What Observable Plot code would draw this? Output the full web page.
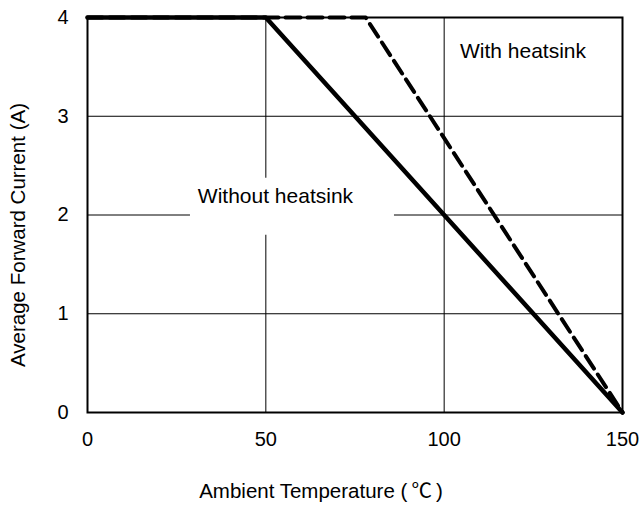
<!DOCTYPE html>
<html>
<head>
<meta charset="utf-8">
<script src="https://cdn.jsdelivr.net/npm/d3@7"></script>
<script src="https://cdn.jsdelivr.net/npm/@observablehq/plot@0.6"></script>
<style>
  html, body { margin: 0; padding: 0; background: #fff; }
</style>
</head>
<body>
<div id="chart"></div>
<script>
// Data
const withoutTemp = [0, 50, 150];
const withoutCurrent = [4, 4, 0];
const withTemp = [0, 78, 150];
const withCurrent = [4, 4, 0];

const xTicks = [0, 50, 100, 150];
const yTicks = [0, 1, 2, 3, 4];

const labelNames = ["Without heatsink", "With heatsink"];
const labelX = [52.7, 122.1];
const labelY = [2.19, 3.66];

const xTitle = "Ambient Temperature (\u2009\u2103\u2009)";
const yTitle = "Average Forward Current (A)";

const withoutData = withoutTemp.map((t, i) => ({t, a: withoutCurrent[i]}));
const withData = withTemp.map((t, i) => ({t, a: withCurrent[i]}));
const labels = labelNames.map((name, i) => ({name, x: labelX[i], y: labelY[i]}));

const font = "'Liberation Sans', Arial, 'Noto Sans CJK JP', sans-serif";

const chart = Plot.plot({
  width: 642,
  height: 506,
  marginLeft: 87,
  marginRight: 20,
  marginTop: 17,
  marginBottom: 94,
  x: {domain: [0, 150]},
  y: {domain: [0, 4]},
  style: {fontFamily: font, background: "white", color: "black"},
  marks: [
    Plot.gridX(xTicks, {stroke: "black", strokeOpacity: 1, strokeWidth: 1}),
    Plot.gridY(yTicks, {stroke: "black", strokeOpacity: 1, strokeWidth: 1}),
    Plot.frame({stroke: "black", strokeWidth: 2}),
    Plot.axisX(xTicks, {tickSize: 0, tickPadding: 19, fontSize: 20, label: null, tickFormat: d => String(d)}),
    Plot.axisY(yTicks, {tickSize: 0, tickPadding: 19, fontSize: 20, label: null, tickFormat: d => String(d)}),
    // white background behind the "Without heatsink" label
    Plot.rect(labels.slice(0, 1), {
      x1: "x", x2: "x", y1: "y", y2: "y",
      fill: "white",
      insetLeft: -85, insetRight: -119, insetTop: -18, insetBottom: -39
    }),
    Plot.text(labels, {x: "x", y: "y", text: "name", fontSize: 21, fill: "black", lineAnchor: "middle", textAnchor: "middle"}),
    Plot.line(withData, {x: "t", y: "a", stroke: "black", strokeWidth: 4, strokeDasharray: "15,7"}),
    Plot.line(withoutData, {x: "t", y: "a", stroke: "black", strokeWidth: 4.5}),
    Plot.text([xTitle], {frameAnchor: "bottom", textAnchor: "middle", dx: -34, dy: 85, lineAnchor: "bottom", fontSize: 20.5, fill: "black"}),
    Plot.text([yTitle], {frameAnchor: "left", textAnchor: "middle", rotate: -90, dx: -69, dy: 20, lineAnchor: "middle", fontSize: 20.5, fill: "black", style: "letter-spacing:1.3px"})
  ]
});
document.getElementById("chart").appendChild(chart);
</script>
</body>
</html>
